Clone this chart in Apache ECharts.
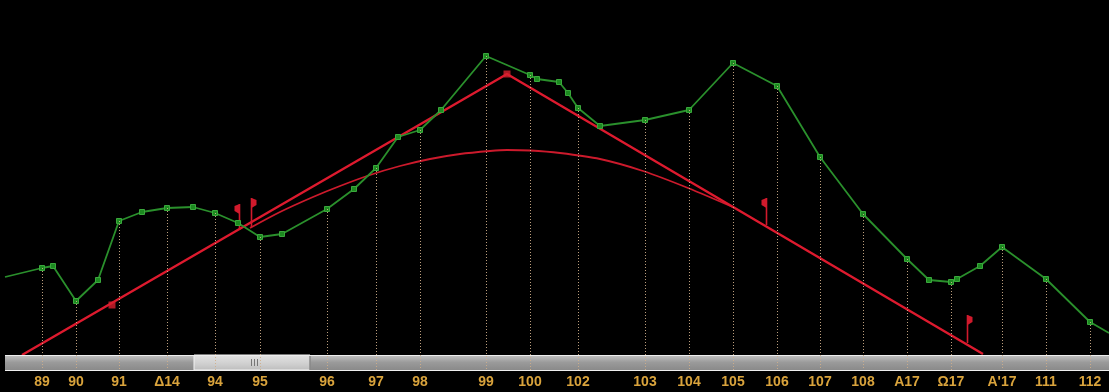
<!DOCTYPE html>
<html>
<head>
<meta charset="utf-8">
<script src="https://cdn.jsdelivr.net/npm/echarts@6/dist/echarts.min.js"></script>
<style>
html,body{margin:0;padding:0;background:#000;}
#c{width:1109px;height:392px;}
</style>
</head>
<body>
<div id="c"></div>
<script>
// Green series: position along the axis, level, and axis label (empty = no label)
const greenX = [5,42,53,76,98,119,142,167,193,215,238,260,282,327,354,376,398,420,441,486,530,537,559,568,578,600,645,689,733,777,820,863,907,929,951,957,980,1002,1046,1090,1109];
const greenY = [78,87,89,54,75,134,143,147,148,142,132,118,121,146,166,187,218,225,245,299,280,276,273,262,247,229,235,245,292,269,198,141,96,75,73,76,89,108,76,33,22];
const greenLabel = ['','89','','90','','91','','Δ14','','94','','95','','96','','97','','98','','99','100','','','','102','','103','104','105','106','107','108','A17','','Ω17','','',"A'17",'111','112',''];

// Red straight trend lines
const redX = [22,507,983];
const redY = [0,281,1];
const redMarkX = [112,507];
const redMarkY = [50,281];

// Red arc
const arcX = [250,280,313,340,370,400,430,460,490,507,530,560,600,643,688,735];
const arcY = [127,143,158,169,180,189,196,201,204,205,204.5,202,196,184,167,147];

// Red flags: position, base level, top level, direction (-1 left, 1 right)
const flagX = [239,251,766,967];
const flagBase = [125,128,130,12];
const flagTop = [151,157,157,40];
const flagDir = [-1,1,-1,1];

const greenData = greenX.map((x,i)=>[x,greenY[i]]);
const labelled = [];
const labelMap = {};
greenX.forEach((x,i)=>{ if(greenLabel[i]){ labelled.push([x,greenY[i]]); labelMap[x]=greenLabel[i]; } });
const labelValues = labelled.map(d=>d[0]);

const chart = echarts.init(document.getElementById('c'));
const W = 1109, trackTop = 355, trackBot = 370;

chart.setOption({
  backgroundColor:'#000',
  animation:false,
  grid:{left:0,right:0,top:0,bottom:37},
  xAxis:{
    type:'value', min:0, max:1109,
    axisLine:{show:false}, axisTick:{show:false}, splitLine:{show:false},
    axisLabel:{
      customValues: labelValues,
      formatter: v => labelMap[v] || '',
      color:'#d9a33c', fontWeight:'bold', fontSize:14,
      fontFamily:'Liberation Sans, Arial, sans-serif', margin:20
    }
  },
  yAxis:{type:'value', min:0, max:355, show:false, splitLine:{show:false}},
  graphic:[
    {type:'rect', z:5, shape:{x:5,y:trackTop,width:W-5,height:trackBot-trackTop},
      style:{fill:new echarts.graphic.LinearGradient(0,0,0,1,[{offset:0,color:'#c2c2c2'},{offset:0.5,color:'#9a9a9a'},{offset:1,color:'#8a8a8a'}])}},
    {type:'rect', z:6, shape:{x:194,y:trackTop,width:116,height:trackBot-trackTop},
      style:{fill:new echarts.graphic.LinearGradient(0,0,0,1,[{offset:0,color:'#e4e4e4'},{offset:0.6,color:'#cfcfcf'},{offset:1,color:'#bcbcbc'}]), stroke:'#f2f2f2', lineWidth:1}},
    {type:'line', z:7, shape:{x1:310,y1:trackTop,x2:310,y2:trackBot}, style:{stroke:'#555',lineWidth:1}},
    {type:'line', z:7, shape:{x1:251.5,y1:359,x2:251.5,y2:366}, style:{stroke:'#777',lineWidth:1}},
    {type:'line', z:7, shape:{x1:254.5,y1:359,x2:254.5,y2:366}, style:{stroke:'#777',lineWidth:1}},
    {type:'line', z:7, shape:{x1:257.5,y1:359,x2:257.5,y2:366}, style:{stroke:'#777',lineWidth:1}},
    {type:'line', z:8, shape:{x1:5,y1:trackTop+0.5,x2:W,y2:trackTop+0.5}, style:{stroke:'#eeeeee',lineWidth:1}},
    {type:'line', z:8, shape:{x1:5,y1:trackBot+0.5,x2:W,y2:trackBot+0.5}, style:{stroke:'#eeeeee',lineWidth:1}}
  ],
  series:[
    {
      type:'custom', z:20, clip:false, silent:true,
      data: labelled,
      renderItem:(params, api)=>{
        const p1 = api.coord([api.value(0), api.value(1)]);
        const p2 = api.coord([api.value(0), 0]);
        return {type:'line', shape:{x1:Math.round(p1[0])+0.5,y1:p1[1],x2:Math.round(p1[0])+0.5,y2:p2[1]+15},
          style:{stroke:'#cfae8a', lineWidth:1, lineDash:[1,2], opacity:0.9}};
      }
    },
    {
      type:'line', z:3, data: arcX.map((x,i)=>[x,arcY[i]]), smooth:0.3, symbol:'none',
      lineStyle:{color:'#cc1a2c', width:1.8}
    },
    {
      type:'line', z:3, data: redX.map((x,i)=>[x,redY[i]]), symbol:'none',
      lineStyle:{color:'#dd1a2e', width:2.4}
    },
    {
      type:'scatter', z:4, data: redMarkX.map((x,i)=>[x,redMarkY[i]]), symbol:'rect', symbolSize:7,
      itemStyle:{color:'#d8202e'}
    },
    {
      type:'custom', z:4, clip:false, silent:true,
      data: flagX.map((x,i)=>[x,flagBase[i],flagTop[i],flagDir[i]]),
      renderItem:(params, api)=>{
        const b = api.coord([api.value(0), api.value(1)]);
        const t = api.coord([api.value(0), api.value(2)]);
        const d = api.value(3);
        const x = Math.round(b[0])+0.5;
        return {type:'group', children:[
          {type:'line', shape:{x1:x,y1:b[1],x2:x,y2:t[1]}, style:{stroke:'#d11a2c',lineWidth:1.6}},
          {type:'polygon', shape:{points:[[x,t[1]],[x+d*5,t[1]+2],[x+d*5,t[1]+7],[x,t[1]+10]]}, style:{fill:'#d11a2c'}}
        ]};
      }
    },
    {
      type:'line', z:10, data: greenData,
      symbol:'rect',
      symbolSize:(v,p)=> (p.dataIndex===0 || p.dataIndex===greenData.length-1) ? 0 : 5,
      showAllSymbol:true,
      lineStyle:{color:'#2a902c', width:1.8},
      itemStyle:{color:'#1c8a20', borderColor:'#3aa83c', borderWidth:1}
    }
  ]
});
</script>
</body>
</html>
